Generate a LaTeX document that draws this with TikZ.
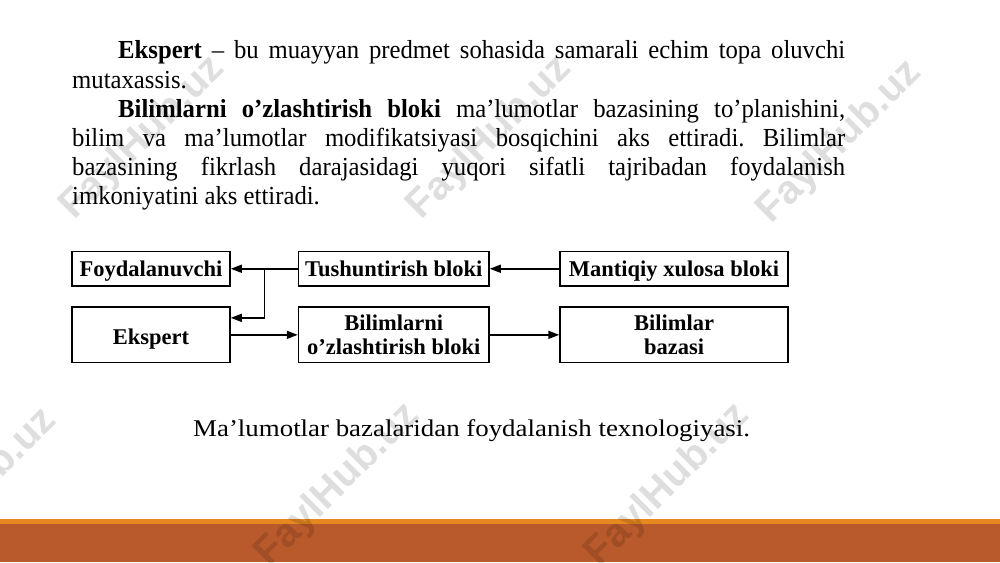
\documentclass[tikz,border=0pt]{standalone}
\usepackage{graphicx}
\usepackage{fontspec}
\setmainfont{Liberation Serif}
\newfontfamily\bodyfont{Liberation Serif}[FakeStretch=0.95]
\newfontfamily\wmfont{Liberation Sans}
\usetikzlibrary{arrows.meta,calc}
\definecolor{barorange}{HTML}{E4881F}
\definecolor{barrust}{HTML}{B95A2C}
\tikzset{
 bx/.style={draw, line width=1.5pt, inner sep=0pt, font=\fontsize{22.5}{23.3}\selectfont\bfseries},
 bxone/.style={bx, minimum height=34.5pt, text height=15pt, text depth=0pt},
 bxtall/.style={bx, minimum height=55.7pt, text height=20pt, text depth=0pt},
 bxtwo/.style={bx, minimum height=55.7pt, align=center},
 arr/.style={-{Triangle[length=11pt,width=8pt]}, line width=1.5pt},
 body/.style={anchor=base west, inner sep=0pt, font=\bodyfont\fontsize{26}{29}\selectfont},
 captxt/.style={anchor=base west, inner sep=0pt, font=\fontsize{24}{29}\selectfont},
 wm/.style={font=\wmfont\bfseries\fontsize{40}{40}\selectfont, text=black, text opacity=0.13, rotate=45, inner sep=0pt},
}
\begin{document}
\frenchspacing
\begin{tikzpicture}[x=1pt,y=-1pt]
\fill[white] (0,0) rectangle (1000,562);
\useasboundingbox (0,0) rectangle (1000,562);

% paragraph text
\node[body] (t1) at (118,58.5) {\makebox[727pt][s]{\textbf{Ekspert} – bu muayyan predmet sohasida samarali echim topa oluvchi}};
\node[body] (t2) at (72,88) {mutaxassis.};
\node[body] (t3) at (118,117.2) {\makebox[727pt][s]{\textbf{Bilimlarni o’zlashtirish bloki} ma’lumotlar bazasining to’planishini,}};
\node[body] (t4) at (72,146.4) {\makebox[773pt][s]{bilim va ma’lumotlar modifikatsiyasi bosqichini aks ettiradi. Bilimlar}};
\node[body] (t5) at (72,175.6) {\makebox[773pt][s]{bazasining fikrlash darajasidagi yuqori sifatli tajribadan foydalanish}};
\node[body] (t6) at (72,204.8) {imkoniyatini aks ettiradi.};

% diagram
\node[bxone, minimum width=158pt] (foyd) at (151,268.75) {Foydalanuvchi};
\node[bxone, minimum width=190.5pt] (tush) at (393.75,268.75) {Tushuntirish bloki};
\node[bxone, minimum width=228pt] (mant) at (674,268.75) {Mantiqiy xulosa bloki};
\node[bxtall, minimum width=158pt] (eks) at (151,334.85) {Ekspert};
\node[bxtwo, minimum width=190.5pt] (bil) at (393.75,334.85) {Bilimlarni\\o’zlashtirish bloki};
\node[bxtwo, minimum width=228pt] (baza) at (674,334.85) {Bilimlar\\bazasi};

\coordinate (j) at ($(tush.west)!0.5!(foyd.east)$);
\coordinate (ein) at ([yshift=17pt]eks.east);
\draw[arr] (mant.west) -- (tush.east);
\draw[arr] (tush.west) -- (foyd.east);
\draw[arr] (j) |- (ein);
\draw[arr] (eks.east) -- (bil.west);
\draw[arr] (bil.east) -- (baza.west);

% caption
\node[captxt] (cap) at (193,436.7) {\scalebox{1.12}[1]{Ma’lumotlar bazalaridan foydalanish texnologiyasi.}};

% bottom bar
\fill[barorange] (0,518.5) rectangle (1000,524);
\fill[barrust] (0,524) rectangle (1000,562);

% watermarks
\node[wm] (w1) at (143,138) {FaylHub.uz};
\node[wm] (w2) at (490,138) {FaylHub.uz};
\node[wm] (w3) at (840,142) {FaylHub.uz};
\node[wm] (w4) at (-25,490) {FaylHub.uz};
\node[wm] (w5) at (338,485) {FaylHub.uz};
\node[wm] (w6) at (668,485) {FaylHub.uz};
\end{tikzpicture}
\end{document}
